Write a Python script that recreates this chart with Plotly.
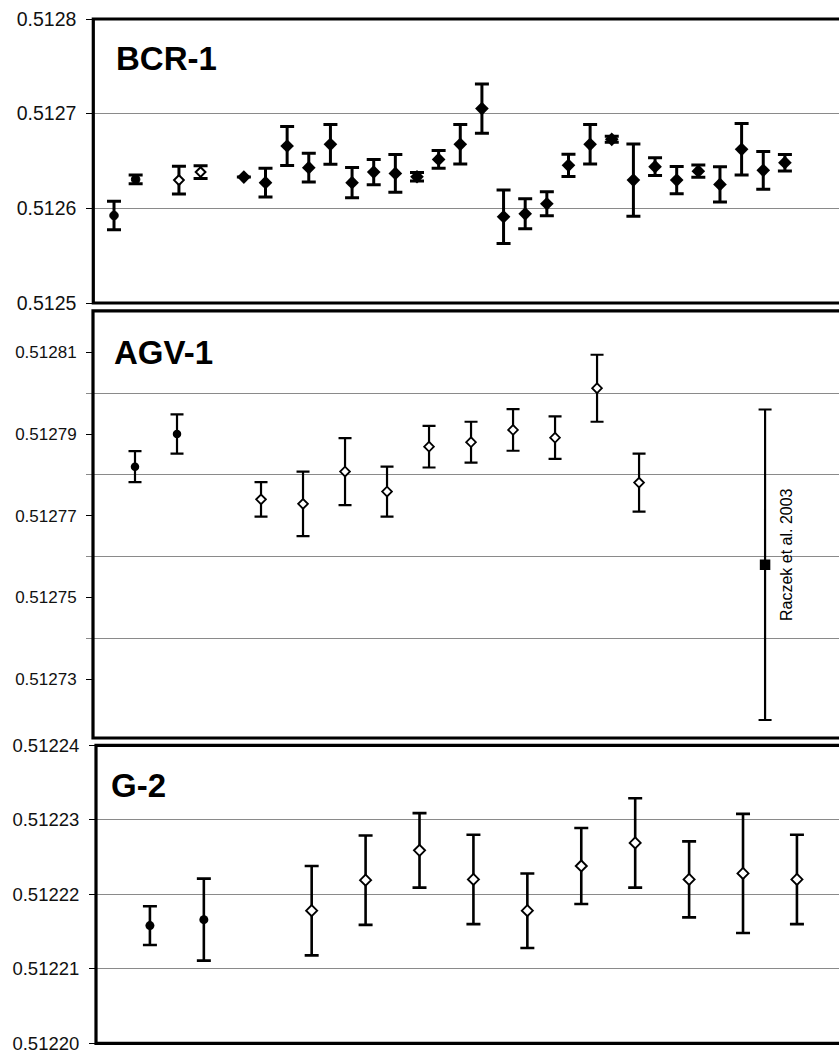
import plotly.graph_objects as go

W, H = 839, 1053

# ---------------- data ----------------
# BCR-1 (143Nd/144Nd), x = measurement slot
bcr_circ_x = [0, 1]
bcr_circ_y = [0.5125924, 0.5126306]
bcr_circ_e = [0.0000150, 0.0000045]

bcr_open_x = [3, 4]
bcr_open_y = [0.5126298, 0.5126383]
bcr_open_e = [0.0000147, 0.0000067]

bcr_dia_x = list(range(6, 32))
bcr_dia_y = [0.5126330, 0.5126271, 0.5126658, 0.5126430, 0.5126676, 0.5126271,
             0.5126383, 0.5126369, 0.5126334, 0.5126517, 0.5126676, 0.5127054,
             0.5125911, 0.5125942, 0.5126048, 0.5126454, 0.5126676, 0.5126729,
             0.5126298, 0.5126440, 0.5126298, 0.5126393, 0.5126253, 0.5126623,
             0.5126401, 0.5126482]
bcr_dia_e = [None, 0.0000152, 0.0000206, 0.0000152, 0.0000210, 0.0000160,
             0.0000134, 0.0000200, 0.0000044, 0.0000094, 0.0000209, 0.0000260,
             0.0000282, 0.0000158, 0.0000127, 0.0000118, 0.0000209, 0.0000032,
             0.0000382, 0.0000094, 0.0000143, 0.0000064, 0.0000186, 0.0000272,
             0.0000200, 0.0000087]

# AGV-1
agv_circ_x = [0, 1]
agv_circ_y = [0.5127820, 0.5127900]
agv_circ_e = [0.0000038, 0.0000048]

agv_open_x = list(range(3, 13))
agv_open_y = [0.5127740, 0.5127729, 0.5127808, 0.5127759, 0.5127869,
              0.5127880, 0.5127910, 0.5127891, 0.5128012, 0.5127781]
agv_open_e = [0.0000042, 0.0000079, 0.0000082, 0.0000061, 0.0000051,
              0.0000050, 0.0000051, 0.0000052, 0.0000082, 0.0000071]

agv_ref_x = [15]
agv_ref_y = [0.5127580]
agv_ref_e = [0.0000380]
agv_ref_label = "Raczek et al. 2003"

# G-2
g2_circ_x = [0, 1]
g2_circ_y = [0.5122158, 0.5122166]
g2_circ_e = [0.0000026, 0.0000055]

g2_open_x = list(range(3, 13))
g2_open_y = [0.5122178, 0.5122219, 0.5122259, 0.5122220, 0.5122178,
             0.5122238, 0.5122269, 0.5122220, 0.5122228, 0.5122220]
g2_open_e = [0.0000060, 0.0000060, 0.0000050, 0.0000060, 0.0000050,
             0.0000051, 0.0000060, 0.0000051, 0.0000080, 0.0000060]

bcr_ticks = [0.5125, 0.5126, 0.5127, 0.5128]
bcr_ticktext = ["0.5125", "0.5126", "0.5127", "0.5128"]
agv_ticks = [0.51273, 0.51275, 0.51277, 0.51279, 0.51281]
agv_ticktext = ["0.51273", "0.51275", "0.51277", "0.51279", "0.51281"]
agv_grid = [0.51274, 0.51276, 0.51278, 0.51280]
g2_ticks = [0.51220, 0.51221, 0.51222, 0.51223, 0.51224]
g2_ticktext = ["0.51220", "0.51221", "0.51222", "0.51223", "0.51224"]

panel_titles = ["BCR-1", "AGV-1", "G-2"]

# ---------------- layout helpers ----------------
def py(p):
    return 1 - p / H

def pxx(p):
    return p / W

FONT = "Liberation Sans, Arial, sans-serif"

fig = go.Figure()

def add(x, y, e, xa, ya, symbol, size, fill, thick, cap, lw=1.5):
    fig.add_trace(go.Scatter(
        x=x, y=y, mode="markers", xaxis=xa, yaxis=ya,
        marker=dict(symbol=symbol, size=size, color=fill,
                    line=dict(color="black", width=lw)),
        error_y=dict(type="data", array=e, visible=True, color="black",
                     thickness=thick, width=cap),
        showlegend=False, hoverinfo="skip"))

# BCR-1
add(bcr_circ_x, bcr_circ_y, bcr_circ_e, "x", "y", "circle", 8.5, "black", 3, 7, 1)
add(bcr_open_x, bcr_open_y, bcr_open_e, "x", "y", "diamond", 7.5, "white", 3, 7, 2)
add(bcr_dia_x, bcr_dia_y, bcr_dia_e, "x", "y", "diamond", 10.5, "black", 3, 7, 0)
# AGV-1
add(agv_circ_x, agv_circ_y, agv_circ_e, "x2", "y2", "circle", 8.5, "black", 2.2, 6.5, 0)
add(agv_open_x, agv_open_y, agv_open_e, "x2", "y2", "diamond", 7.5, "white", 2.2, 6.5, 1.8)
add(agv_ref_x, agv_ref_y, agv_ref_e, "x2", "y2", "square", 10.5, "black", 2.2, 6.5, 0)
# G-2
add(g2_circ_x, g2_circ_y, g2_circ_e, "x3", "y3", "circle", 9, "black", 2.6, 7, 0)
add(g2_open_x, g2_open_y, g2_open_e, "x3", "y3", "diamond", 8.5, "white", 2.6, 7, 1.9)

# panel geometry (pixels): left, top, bottom, x-range, y-range
panels = [
    dict(left=93.3, top=19.0, bottom=303.0, xr=[-0.957, 33.5], yr=[0.5125, 0.5128]),
    dict(left=93.0, top=310.8, bottom=738.0, xr=[-1.0, 16.76], yr=[0.5127156, 0.51282015]),
    dict(left=96.0, top=745.3, bottom=1043.3, xr=[-1.0, 12.78], yr=[0.51220, 0.51224]),
]

GRID = "#8a8a8a"
layout = dict(width=W, height=H, margin=dict(l=0, r=0, t=0, b=0, autoexpand=False),
              plot_bgcolor="white", paper_bgcolor="white", showlegend=False,
              hovermode=False)

ytick_sizes = [19.5, 17, 18.5]
for i, p in enumerate(panels):
    sfx = "" if i == 0 else str(i + 1)
    layout["xaxis" + sfx] = dict(domain=[pxx(p["left"]), 1], range=p["xr"], visible=False,
                                 anchor="y" + sfx, fixedrange=True, automargin=False)
    yax = dict(domain=[py(p["bottom"]), py(p["top"])], range=p["yr"], anchor="x" + sfx,
               showline=False, zeroline=False, ticks="outside", ticklen=6, tickwidth=1,
               tickcolor="black", tickfont=dict(family=FONT, size=ytick_sizes[i], color="#111"),
               ticklabelstandoff=6, ticklabeloverflow="allow", gridcolor=GRID, gridwidth=1,
               fixedrange=True, automargin=False)
    if i == 0:
        yax.update(tickmode="array", tickvals=bcr_ticks, ticktext=bcr_ticktext, showgrid=True)
    elif i == 1:
        yax.update(tickmode="array", tickvals=agv_ticks, ticktext=agv_ticktext, showgrid=False,
                   minor=dict(tickmode="array", tickvals=agv_grid, ticks="outside", ticklen=6,
                              tickcolor=GRID, showgrid=True, gridcolor=GRID, gridwidth=1))
    else:
        yax.update(tickmode="array", tickvals=g2_ticks, ticktext=g2_ticktext, showgrid=True)
    layout["yaxis" + sfx] = yax

shapes = []
for p in panels:
    l, t, b = pxx(p["left"]), py(p["top"]), py(p["bottom"])
    shapes.append(dict(type="path", xref="paper", yref="paper",
                       path=f"M 1.01 {t} L {l} {t} L {l} {b} L 1.01 {b}",
                       line=dict(color="black", width=3.2), layer="above"))
layout["shapes"] = shapes

title_pos = [(114, 58), (112, 353), (109, 785.5)]
annotations = []
for txt, (x, y) in zip(panel_titles, title_pos):
    annotations.append(dict(text=f"<b>{txt}</b>", xref="paper", yref="paper",
                            x=pxx(x), y=py(y), xanchor="left", yanchor="middle",
                            showarrow=False, font=dict(family=FONT, size=33, color="black")))
annotations.append(dict(text=agv_ref_label, xref="paper", yref="paper",
                        x=pxx(786), y=py(555), xanchor="center", yanchor="middle",
                        textangle=-90, showarrow=False,
                        font=dict(family=FONT, size=16, color="black")))
layout["annotations"] = annotations

fig.update_layout(**layout)
fig.write_html(
    "out.html",
    config={"displayModeBar": False},
    post_script="document.body.style.margin='0';document.body.style.overflow='hidden';",
)
